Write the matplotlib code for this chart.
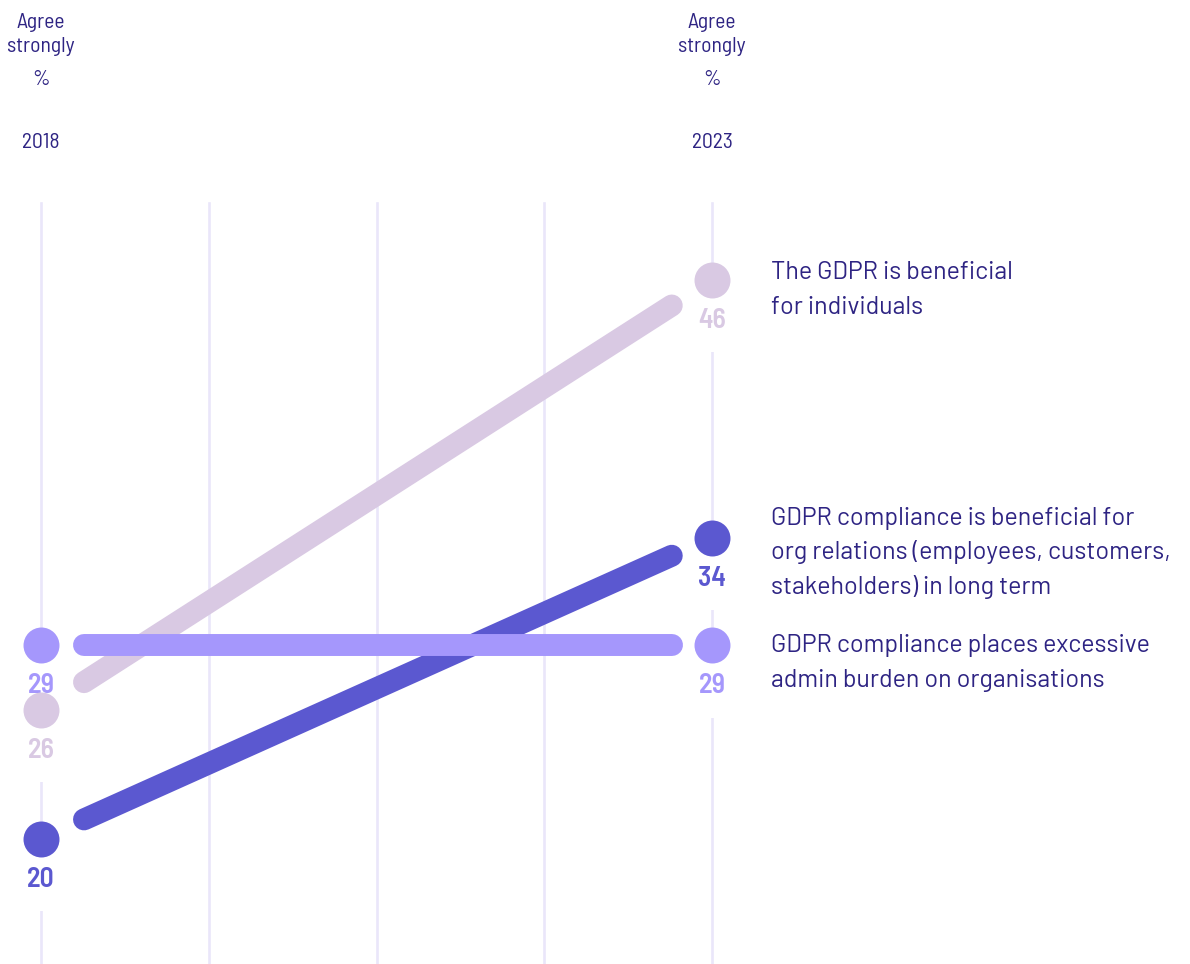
"""
Slope chart: share agreeing strongly with GDPR statements, 2018 vs 2023.
"""

import matplotlib
matplotlib.use("Agg")
import matplotlib.pyplot as plt
import numpy as np

# data
years = [2018, 2023]
statements = [
    "The GDPR is beneficial\nfor individuals",
    "GDPR compliance is beneficial for\norg relations (employees, customers,\nstakeholders) in long term",
    "GDPR compliance places excessive\nadmin burden on organisations",
]
values_2018 = [26, 20, 29]
values_2023 = [46, 34, 29]
colors = ["#D9C9E3", "#5B58D0", "#A597FC"]

# label baselines (pixels from top), one per statement block
label_top_px = [279, 525, 652]

TEXT = "#2E2483"
GRID = "#EAE6FA"
W, H = 1190, 964

fig = plt.figure(figsize=(W / 100, H / 100), dpi=100)
ax = fig.add_axes([0, 0, 1, 1])
ax.set_xlim(2017.694, 2026.562)
ax.set_ylim(14.17, 59.01)
ax.axis("off")

def yfrac(px):
    return 1 - px / H

# vertical grid
for gx in np.linspace(years[0], years[1], 5):
    ax.axvline(gx, ymin=0, ymax=yfrac(203), color=GRID, lw=1.9, zorder=1)

head_font = dict(family=["Barlow Semi Condensed", "DejaVu Sans"], fontweight="normal")
num_font = dict(family=["Barlow Semi Condensed", "DejaVu Sans"], fontweight="semibold")
lab_font = ["Barlow", "Roboto", "DejaVu Sans"]
xt = ax.get_xaxis_transform()

# column headers
for yr in years:
    for txt, py in [("Agree", 28), ("strongly", 52), ("%", 85), (str(yr), 148)]:
        ax.text(yr, yfrac(py), txt, transform=xt, ha="center", va="baseline",
                fontsize=15.5, color=TEXT, **head_font)

t0, t1 = 0.064, 0.94
for v0, v1, c, lab, ty in zip(values_2018, values_2023, colors, statements, label_top_px):
    xs = [years[0] + t0 * (years[1] - years[0]), years[0] + t1 * (years[1] - years[0])]
    ys = [v0 + t0 * (v1 - v0), v0 + t1 * (v1 - v0)]
    ax.plot(xs, ys, color=c, lw=15.8, solid_capstyle="round", zorder=3)
    ax.plot(years, [v0, v1], "o", ms=25.9, color=c, mec="none", zorder=4)
    for yr, v in zip(years, [v0, v1]):
        ax.annotate(str(v), (yr, v), xytext=(0, -34.5), textcoords="offset points",
                    ha="center", va="baseline", fontsize=20, color=c, zorder=2,
                    bbox=dict(boxstyle="square,pad=0.7", fc="white", ec="none"), **num_font)
    for i, line in enumerate(lab.split("\n")):
        ax.text(2023.44, yfrac(ty + i * 34.5), line, transform=xt, ha="left",
                va="baseline", fontsize=18, family=lab_font, color=TEXT)

fig.savefig("out.png", dpi=100)
